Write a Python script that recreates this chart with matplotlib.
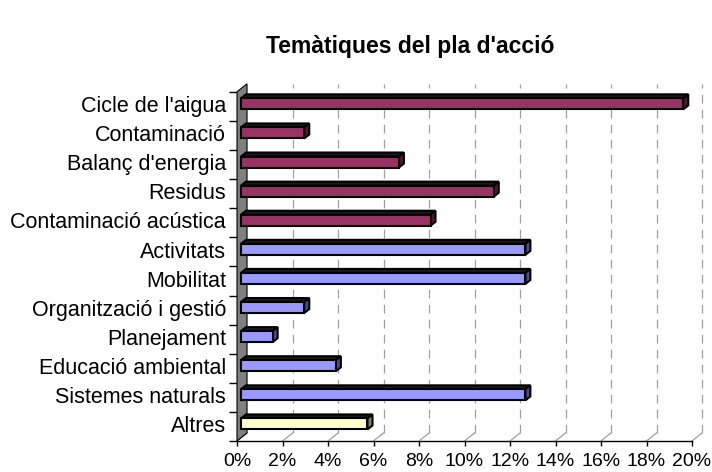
import matplotlib.pyplot as plt
from matplotlib.patches import Polygon

plt.rcParams['font.family'] = ['Liberation Sans', 'DejaVu Sans']

categories = ["Cicle de l'aigua", "Contaminació", "Balanç d'energia", "Residus",
              "Contaminació acústica", "Activitats", "Mobilitat",
              "Organització i gestió", "Planejament", "Educació ambiental",
              "Sistemes naturals", "Altres"]
percent = [19.44, 2.78, 6.94, 11.11, 8.33, 12.50, 12.50, 2.78, 1.39, 4.17, 12.50, 5.56]
groups = ['a', 'a', 'a', 'a', 'a', 'b', 'b', 'b', 'b', 'b', 'b', 'c']
xticks = [0, 2, 4, 6, 8, 10, 12, 14, 16, 18, 20]

face = {'a': '#993366', 'b': '#9999ff', 'c': '#ffffcc'}
side = {'a': '#4d1a33', 'b': '#4d4d80', 'c': '#808066'}

fig = plt.figure(figsize=(7.12, 4.72), dpi=100)
ax = fig.add_axes([237 / 712, 31 / 472, 455 / 712, 349.2 / 472])
n = len(categories)
ax.set_xlim(0, 20)
ax.set_ylim(0, n)

# depth of the "3d" wall and bars in data units
wdx, wdy = 0.44, 0.275
bx0, by0 = 0.176, 0.086
bdx, bdy = 0.22, 0.137
bh = 0.19

# back gridlines and floor diagonals
for v in xticks:
    if v > 0:
        ax.plot([v + wdx, v + wdx], [wdy, n + wdy], color='#a0a0a0', lw=0.9,
                ls=(0, (7, 5)), clip_on=False, zorder=1)
    ax.plot([v, v + wdx], [0, wdy], color='#a0a0a0', lw=0.9, clip_on=False, zorder=1)

# gray wall
ax.add_patch(Polygon([(0, 0), (wdx, wdy), (wdx, n + wdy), (0, n)], closed=True,
                     facecolor='#808080', edgecolor='black', lw=0.8, clip_on=False, zorder=2))

for i, (val, g) in enumerate(zip(percent, groups)):
    yc = n - i - 0.5 + by0
    x0, x1 = bx0, bx0 + val
    y0, y1 = yc - bh, yc + bh
    kw = dict(closed=True, edgecolor='black', lw=1.5, joinstyle='miter', clip_on=False, zorder=3)
    ax.add_patch(Polygon([(x0, y1), (x1, y1), (x1 + bdx, y1 + bdy), (x0 + bdx, y1 + bdy)],
                         facecolor='#1a1a1a', **kw))
    ax.add_patch(Polygon([(x1, y0), (x1 + bdx, y0 + bdy), (x1 + bdx, y1 + bdy), (x1, y1)],
                         facecolor=side[g], **kw))
    ax.add_patch(Polygon([(x0, y0), (x1, y0), (x1, y1), (x0, y1)],
                         facecolor=face[g], **kw))

for s in ['top', 'right', 'left']:
    ax.spines[s].set_visible(False)
ax.spines['bottom'].set_color('black')
ax.spines['bottom'].set_linewidth(1.0)

ax.set_xticks(xticks)
ax.set_xticklabels([f'{v}%' for v in xticks], fontsize=14)
ax.tick_params(axis='x', length=3.5, width=1.0, pad=5)

ax.set_yticks(range(n + 1))
ax.set_yticklabels([])
ax.tick_params(axis='y', which='major', length=6, width=1.0)
ax.set_yticks([n - i - 0.5 + 0.08 for i in range(n)], minor=True)
ax.set_yticklabels(categories, minor=True, fontsize=15.5)
ax.tick_params(axis='y', which='minor', length=0, pad=8)

fig.text(410 / 712, 1 - 47 / 472, "Temàtiques del pla d'acció", ha='center', va='center',
         fontsize=16.5, fontweight='bold')

fig.savefig('out.png', dpi=100)
